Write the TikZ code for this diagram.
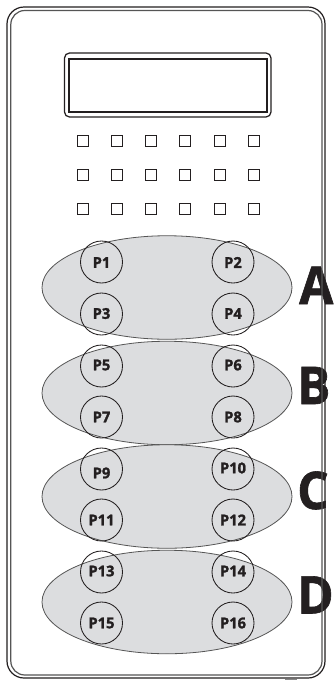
\documentclass[tikz,border=0pt]{standalone}
\usepackage{fontspec}
\setmainfont{Open Sans}
\usetikzlibrary{shapes.geometric}
\definecolor{ell}{HTML}{DCDDDF}
\definecolor{ink}{HTML}{231F20}
\definecolor{frameg}{HTML}{555555}
\newfontfamily\padfont[BoldFeatures={FakeBold=1.6,FakeStretch=0.98}]{Open Sans}
\newfontfamily\bigfont[BoldFeatures={FakeBold=1.2,FakeStretch=0.95}]{Open Sans}
\tikzset{
  x=1pt,y=-1pt,
  pad/.style={circle,draw=ink,line width=0.85pt,minimum size=42pt,inner sep=0pt},
  padtext/.style={font=\padfont\fontsize{15}{15}\selectfont\bfseries,text=ink,inner sep=0pt},
  zone/.style={ellipse,draw=frameg,line width=0.8pt,fill=ell,minimum width=250pt,minimum height=103.5pt,inner sep=0pt},
  led/.style={rectangle,draw=ink,line width=1.25pt,minimum size=11pt,inner sep=0pt},
  letter/.style={font=\bigfont\fontsize{52}{52}\selectfont\bfseries,text=ink,inner sep=0pt,anchor=base west},
}
\begin{document}
\begin{tikzpicture}
\useasboundingbox (0,0) rectangle (334,686);
\fill[white] (0,0) rectangle (334,686);
% letters
\node[letter] (la) at (299,304) {A};
\node[letter] (lb) at (297,404) {B};
\node[letter] (lc) at (297,509) {C};
\node[letter] (ld) at (297,613.5) {D};
% case
\draw[ink,line width=1.2pt,rounded corners=17pt] (7,7) rectangle (325,678);
\draw[frameg,line width=1.2pt,rounded corners=14pt] (10.8,10.5) rectangle (322,675);
\draw[frameg!70,line width=1.2pt] (285,679.2) -- (297,679.2);
% display
\draw[ink,line width=1.25pt,rounded corners=5pt] (64.5,53) rectangle (271,117);
\draw[ink,line width=1.25pt] (69,59) rectangle (267,112);
% leds
\foreach \r/\yy in {1/141,2/175,3/209}
  \foreach \c/\xx in {1/83,2/117,3/151,4/185,5/220,6/254}
    \node[led] (led\r\c) at (\xx,\yy) {};
% zones
\node[zone] (za) at (167,287.5) {};
\node[zone] (zb) at (167,393) {};
\node[zone] (zc) at (167,496.5) {};
\node[zone] (zd) at (167,602) {};
% pads
\foreach \n/\xx/\yy/\ty in {
  1/101.5/262/262.5, 2/233/262/262.5, 3/101.5/314/313.5, 4/233/314/313.5,
  5/101.5/366/365, 6/233/366/365, 7/101.5/417/417, 8/233/417/417,
  9/101.5/469/473, 10/233/469/468, 11/101.5/520/520, 12/233/520/520,
  13/101.5/572/571, 14/233/572/571, 15/101.5/623/623, 16/233/623/623}
{
  \node[pad] (c\n) at (\xx,\yy) {};
  \node[padtext] (p\n) at (\xx,\ty) {P\n};
}
\end{tikzpicture}
\end{document}
